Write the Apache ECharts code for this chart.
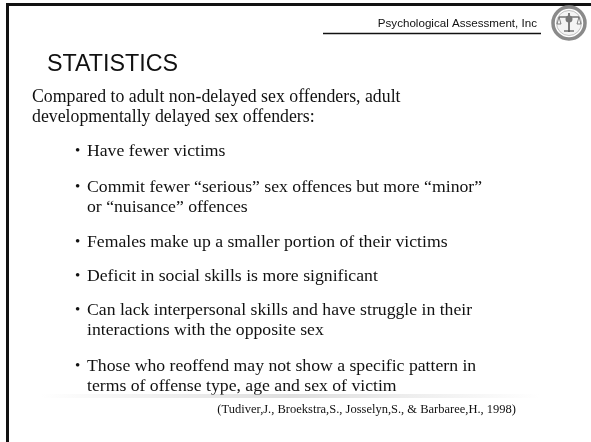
<!DOCTYPE html>
<html>
<head>
<meta charset="utf-8">
<script src="https://cdn.jsdelivr.net/npm/echarts@6/dist/echarts.min.js"></script>
<style>
  html, body { margin: 0; padding: 0; background: #fff; }
  #main { width: 591px; height: 442px; }
</style>
</head>
<body>
<div id="main"></div>
<script>
// slide text
const headerText = 'Psychological Assessment, Inc'
const titleText = 'STATISTICS'
const introLines = [
  'Compared to adult non-delayed sex offenders, adult',
  'developmentally delayed sex offenders:'
]
const bullets = [
  ['Have fewer victims'],
  ['Commit fewer \u201cserious\u201d sex offences but more \u201cminor\u201d', 'or \u201cnuisance\u201d offences'],
  ['Females make up a smaller portion of their victims'],
  ['Deficit in social skills is more significant'],
  ['Can lack interpersonal skills and have struggle in their', 'interactions with the opposite sex'],
  ['Those who reoffend may not show a specific pattern in', 'terms of offense type, age and sex of victim']
]
const citation = '(Tudiver,J., Broekstra,S., Josselyn,S., & Barbaree,H., 1998)'

const chart = echarts.init(document.getElementById('main'))

const serif = '"Liberation Serif", "Times New Roman", serif'
const sans = '"Liberation Sans", Arial, sans-serif'

const elements = []

// frame: top and left bars
elements.push({ type: 'rect', shape: { x: 6, y: 3, width: 585, height: 3 }, style: { fill: '#111' } })
elements.push({ type: 'rect', shape: { x: 6, y: 3, width: 3, height: 439 }, style: { fill: '#111' } })

// header
elements.push({
  type: 'text', x: 537, y: 24,
  style: { text: headerText, font: '11.6px ' + sans, fill: '#111', textAlign: 'right', textVerticalAlign: 'middle' }
})
elements.push({ type: 'line', shape: { x1: 323, y1: 33.5, x2: 541, y2: 33.5 }, style: { stroke: '#111', lineWidth: 1.5 } })

// logo ring
elements.push({
  type: 'circle', shape: { cx: 569, cy: 23, r: 16 },
  style: { fill: '#fff', stroke: '#8a8a8a', lineWidth: 3.5 }
})
elements.push({
  type: 'circle', shape: { cx: 569, cy: 23, r: 12.5 },
  style: { fill: '#f4f4f4', stroke: '#c0c0c0', lineWidth: 1 }
})
// simple scales icon
elements.push({ type: 'line', shape: { x1: 569, y1: 13, x2: 569, y2: 32 }, style: { stroke: '#555', lineWidth: 1.5 } })
elements.push({ type: 'line', shape: { x1: 559, y1: 17, x2: 579, y2: 17 }, style: { stroke: '#555', lineWidth: 1.2 } })
elements.push({ type: 'circle', shape: { cx: 569, cy: 19, r: 3.5 }, style: { fill: '#777' } })
elements.push({ type: 'polyline', shape: { points: [[559, 17], [557, 24], [561, 24], [559, 17]] }, style: { stroke: '#666', fill: 'none', lineWidth: 0.8 } })
elements.push({ type: 'polyline', shape: { points: [[579, 17], [577, 24], [581, 24], [579, 17]] }, style: { stroke: '#666', fill: 'none', lineWidth: 0.8 } })
elements.push({ type: 'line', shape: { x1: 564, y1: 31, x2: 574, y2: 31 }, style: { stroke: '#555', lineWidth: 1.2 } })

// title
elements.push({
  type: 'text', x: 47, y: 65,
  style: { text: titleText, font: '23.3px ' + sans, fill: '#111', textVerticalAlign: 'middle' }
})

// intro
introLines.forEach((t, i) => {
  elements.push({
    type: 'text', x: 32, y: 97 + i * 20,
    style: { text: t, font: '17.8px ' + serif, fill: '#111', textVerticalAlign: 'middle' }
  })
})

// bullets
const bulletTops = [151, 187, 242, 276, 310, 366]
bullets.forEach((lines, bi) => {
  elements.push({
    type: 'text', x: 75, y: bulletTops[bi],
    style: { text: '\u2022', font: '15px ' + serif, fill: '#111', textVerticalAlign: 'middle' }
  })
  lines.forEach((t, li) => {
    elements.push({
      type: 'text', x: 87, y: bulletTops[bi] + li * 20,
      style: { text: t, font: '17.7px ' + serif, fill: '#111', textVerticalAlign: 'middle' }
    })
  })
})

// faint shadow line under last bullet
elements.push({
  type: 'rect', shape: { x: 40, y: 394, width: 500, height: 4 },
  style: {
    fill: new echarts.graphic.LinearGradient(0, 0, 1, 0, [
      { offset: 0, color: 'rgba(200,200,200,0)' },
      { offset: 0.5, color: 'rgba(200,200,200,0.6)' },
      { offset: 1, color: 'rgba(200,200,200,0)' }
    ])
  }
})

// citation
elements.push({
  type: 'text', x: 516, y: 410,
  style: { text: citation, font: '12.5px ' + serif, fill: '#111', textAlign: 'right', textVerticalAlign: 'middle' }
})

chart.setOption({
  animation: false,
  backgroundColor: '#fff',
  graphic: { elements: elements }
})
</script>
</body>
</html>
